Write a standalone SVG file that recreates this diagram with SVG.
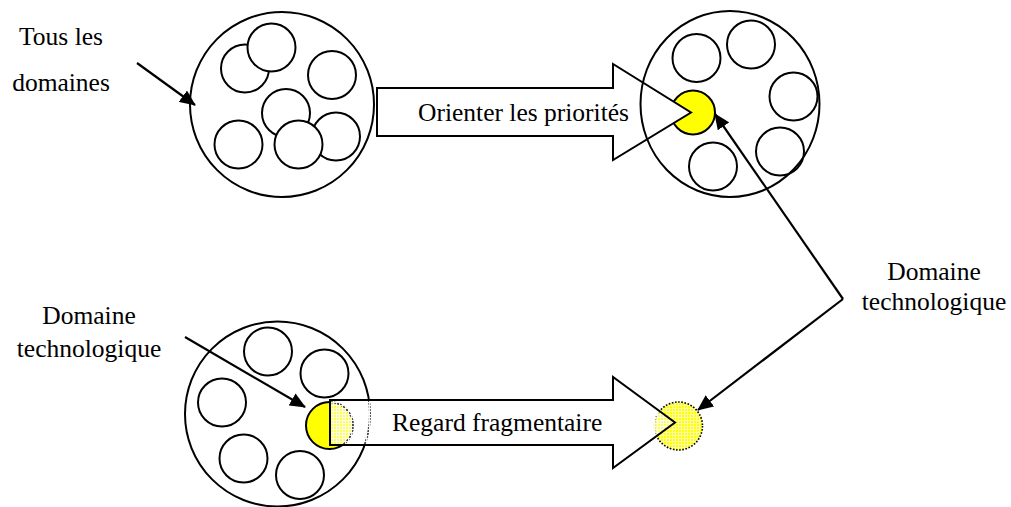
<svg xmlns="http://www.w3.org/2000/svg" width="1011" height="507" viewBox="0 0 1011 507">
<defs>
<style>
.c{fill:#fff;stroke:#000;stroke-width:2}
.big{fill:none;stroke:#000;stroke-width:2}
text{font-family:'Liberation Serif','Times New Roman','DejaVu Serif',serif;font-size:25.5px;fill:#000}
.ln{fill:none;stroke:#000;stroke-width:2.2}
.blk{stroke:#000;stroke-width:2;stroke-linejoin:miter}
</style>
<pattern id="mesh" width="3" height="3" patternUnits="userSpaceOnUse">
<rect width="3" height="3" fill="#fff" fill-opacity="0.3"/>
<path d="M0,0.5H3M0.5,0V3" stroke="#fff" stroke-width="1" stroke-opacity="0.9"/>
</pattern>
<pattern id="mesh2" width="3" height="3" patternUnits="userSpaceOnUse">
<rect width="3" height="3" fill="#ffff00"/>
<path d="M0,0.5H3M0.5,0V3" stroke="#ffffaa" stroke-width="1"/>
</pattern>
<marker id="ah" viewBox="0 0 16 14" refX="15" refY="7" markerWidth="16" markerHeight="14" markerUnits="userSpaceOnUse" orient="auto">
<path d="M0,0L16,7L0,14z" fill="#000"/>
</marker>
</defs>
<rect width="1011" height="507" fill="#fff"/>

<g id="all-domains">
<ellipse cx="282" cy="104.5" rx="92" ry="92.5" class="c"/>
<circle cx="245" cy="68.5" r="24" class="c"/>
<circle cx="271.5" cy="47.5" r="24" class="c"/>
<circle cx="332" cy="75" r="24" class="c"/>
<circle cx="286" cy="113" r="24" class="c"/>
<circle cx="336" cy="136.5" r="24" class="c"/>
<circle cx="298.5" cy="144.5" r="24" class="c"/>
<circle cx="238.5" cy="144.5" r="24" class="c"/>
</g>

<g id="priorities">
<circle cx="696.5" cy="58" r="24" class="c"/>
<circle cx="751" cy="44.5" r="24" class="c"/>
<circle cx="793.5" cy="96.5" r="24" class="c"/>
<circle cx="780" cy="151.5" r="24" class="c"/>
<circle cx="713" cy="166.5" r="24" class="c"/>
<circle cx="693" cy="112.5" r="22" fill="#ffff00" stroke="#000" stroke-width="2"/>
</g>

<g id="arrow-orienter">
<path d="M377,88H613V64L691,112.5L613,160V136H377z" class="blk" fill="#fff"/>
<text x="418" y="121" font-size="24">Orienter les priorités</text>
</g>
<ellipse id="priorities-outline" cx="730" cy="104" rx="89.5" ry="93" class="big"/>

<g id="fragmented">
<ellipse cx="277.5" cy="414" rx="92.5" ry="92.5" class="c"/>
<circle cx="268" cy="351.5" r="24" class="c"/>
<circle cx="324.5" cy="373.5" r="24" class="c"/>
<circle cx="222" cy="402.5" r="24" class="c"/>
<circle cx="243.5" cy="458.5" r="24" class="c"/>
<circle cx="300" cy="475" r="24" class="c"/>
<circle cx="329.5" cy="425.5" r="23.5" fill="#ffff00" stroke="#000" stroke-width="2"/>
</g>

<g id="target">
<circle cx="678.5" cy="426" r="24" fill="url(#mesh2)" stroke="#000" stroke-width="1.6" stroke-dasharray="1.6 1.6"/>
</g>

<g id="arrow-regard">
<path d="M330,400H613V377L675,422.5L613,468V445H330z" class="blk" fill="url(#mesh)"/>
<text x="392" y="431" font-size="24">Regard fragmentaire</text>
</g>

<g id="label-tous">
<text x="61" y="45" text-anchor="middle">Tous les</text>
<text x="61" y="91" text-anchor="middle">domaines</text>
</g>
<g id="label-domaine-left">
<text x="89" y="324" text-anchor="middle">Domaine</text>
<text x="89" y="357" text-anchor="middle">technologique</text>
</g>
<g id="label-domaine-right">
<text x="934" y="280" text-anchor="middle">Domaine</text>
<text x="934" y="310" text-anchor="middle">technologique</text>
</g>

<g id="connectors">
<line x1="137" y1="63" x2="195" y2="105" class="ln" marker-end="url(#ah)"/>
<line x1="185" y1="337" x2="305" y2="407" class="ln" marker-end="url(#ah)"/>
<line x1="843" y1="299" x2="715" y2="114" class="ln" marker-end="url(#ah)"/>
<line x1="843" y1="299" x2="698" y2="410" class="ln" marker-end="url(#ah)"/>
</g>
</svg>
